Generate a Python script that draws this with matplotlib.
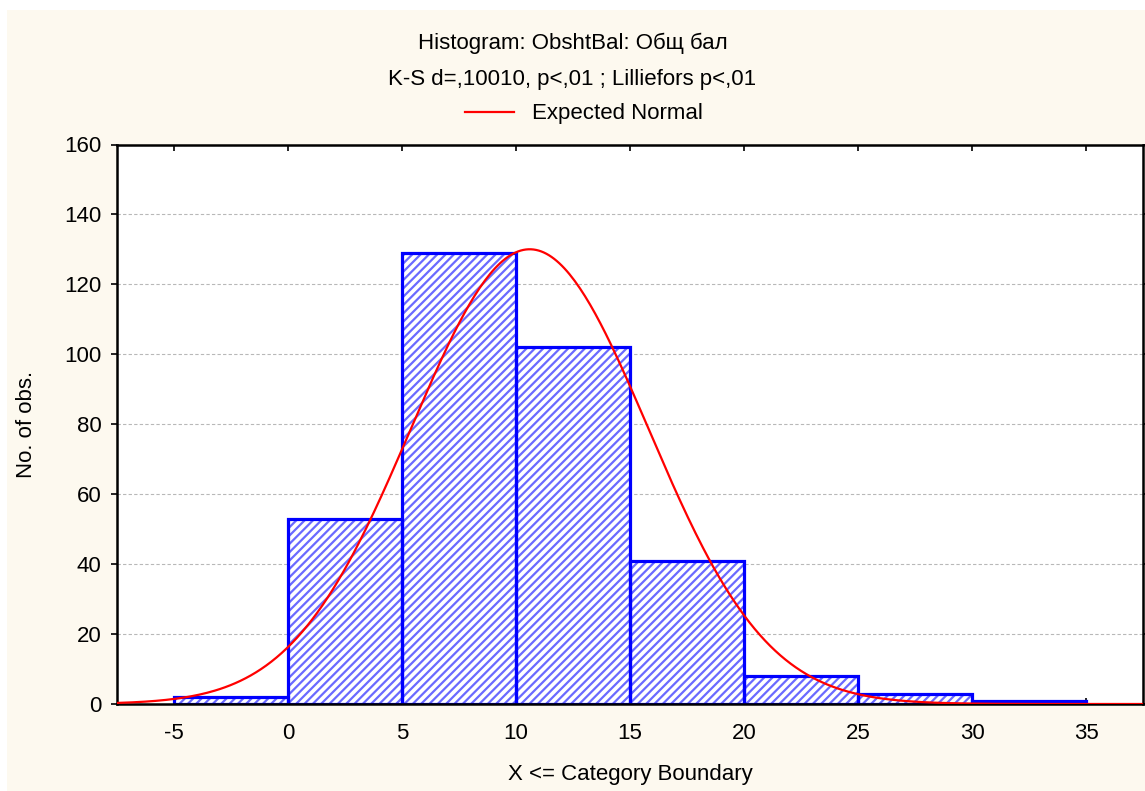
import numpy as np
import matplotlib
matplotlib.use("Agg")
import matplotlib.pyplot as plt
from matplotlib.patches import Rectangle
from matplotlib.lines import Line2D

# histogram data
bin_edges = [-5, 0, 5, 10, 15, 20, 25, 30, 35]
counts = [2, 53, 129, 102, 41, 8, 3, 1]
xticks = [-5, 0, 5, 10, 15, 20, 25, 30, 35]
xticklabels = ["-5", "0", "5", "10", "15", "20", "25", "30", "35"]
yticks = [0, 20, 40, 60, 80, 100, 120, 140, 160]

# expected normal parameters (estimated)
norm_mean = 10.6
norm_sd = 5.2

title1 = "Histogram: ObshtBal: Общ бал"
title2 = "K-S d=,10010, p<,01 ; Lilliefors p<,01"

plt.rcParams['font.family'] = ['Liberation Sans', 'DejaVu Sans']
plt.rcParams['hatch.linewidth'] = 1.6
FS = 16

W, H = 1145, 791
fig = plt.figure(figsize=(W / 100, H / 100), dpi=100, facecolor="white")
fig.patches.append(Rectangle((7 / W, 0), 1, (H - 10) / H, transform=fig.transFigure,
                             facecolor="#fdf9ef", edgecolor="none", zorder=-10))

ax = fig.add_axes([117 / W, (H - 704) / H, (1143 - 117) / W, (704 - 144.5) / H])
ax.set_facecolor("white")

widths = np.diff(bin_edges)
# hatch layer (lighter blue) then outline layer
ax.bar(bin_edges[:-1], counts, width=widths, align="edge", facecolor="white",
       edgecolor="#6a6aff", linewidth=0, hatch="////", zorder=2)
ax.bar(bin_edges[:-1], counts, width=widths, align="edge", facecolor="none",
       edgecolor="#0000ff", linewidth=2.3, zorder=2.5)

n_total = sum(counts)
xs = np.linspace(-7.5, 37.5, 400)
ys = n_total * widths[0] / (norm_sd * np.sqrt(2 * np.pi)) * np.exp(-(xs - norm_mean) ** 2 / (2 * norm_sd ** 2))
ax.plot(xs, ys, color="#ff0000", linewidth=1.6, zorder=3)

ax.set_xlim(-7.5, 37.5)
ax.set_ylim(0, 160)
ax.set_xticks(xticks)
ax.set_xticklabels(xticklabels)
ax.set_yticks(yticks)
ax.tick_params(labelsize=FS, length=4, width=1.2, colors="black")
ax.tick_params(axis="x", direction="in", top=True, pad=14)
ax.tick_params(axis="y", direction="out", right=True, pad=7)
ax.yaxis.grid(True, linestyle=(0, (3, 2)), color="#b8b8b8", linewidth=0.8, zorder=0)
ax.set_axisbelow(True)
for s in ax.spines.values():
    s.set_linewidth(1.8)

ax.set_xlabel("X <= Category Boundary", fontsize=FS)
ax.xaxis.set_label_coords(0.5, -0.107)
ax.set_ylabel("No. of obs.", fontsize=FS)
ax.yaxis.set_label_coords(-0.078, 0.5)

fig.text(0.5, 1 - 43 / H, title1, ha="center", va="center", fontsize=FS)
fig.text(0.5, 1 - 79 / H, title2, ha="center", va="center", fontsize=FS)
leg_line = Line2D([], [], color="#ff0000", linewidth=1.6)
fig.legend([leg_line], ["Expected Normal"], loc="center", bbox_to_anchor=(0.51, 1 - 114 / H),
           frameon=False, fontsize=FS, handlelength=2.2, handletextpad=0.8)

fig.savefig("out.png", dpi=100, facecolor=fig.get_facecolor())
